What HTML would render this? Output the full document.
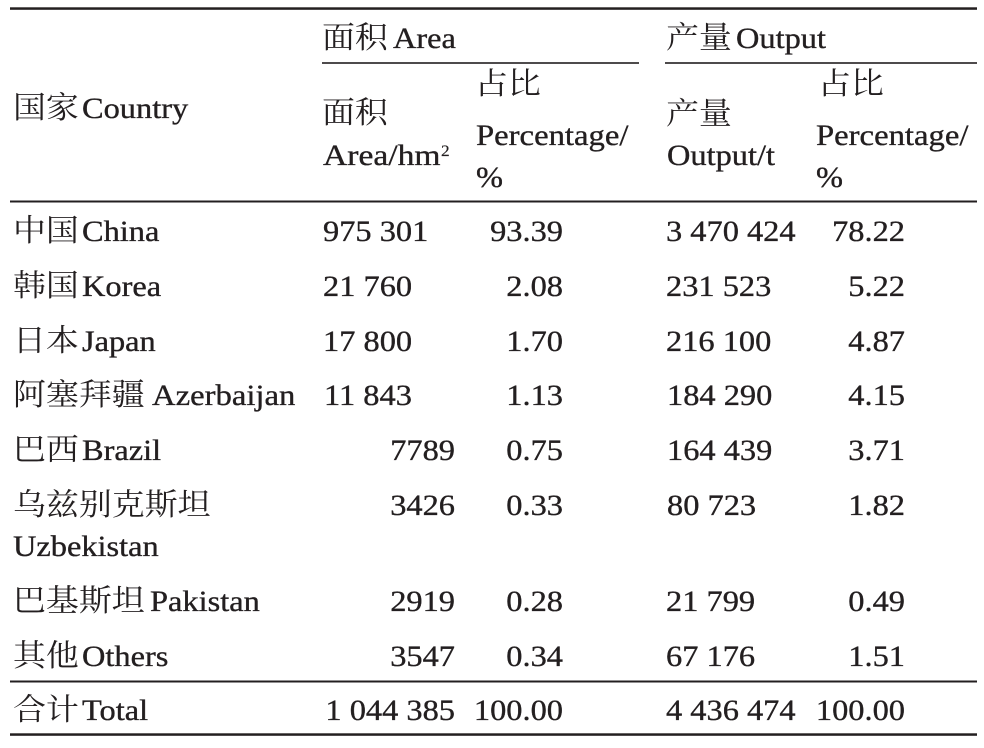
<!DOCTYPE html>
<html>
<head>
<meta charset="utf-8">
<style>
  html, body { margin: 0; padding: 0; background: #ffffff; }
  svg { display: block; }
  .t { font-family: "Liberation Serif", "Noto Serif CJK SC", serif; font-size: 30px; fill: #231f20; stroke: #231f20; stroke-width: 0.35px; }
  .c { font-family: "Noto Serif CJK SC", "Liberation Serif", serif; font-size: 30.5px; fill: #231f20; }
  .e { text-anchor: end; }
</style>
</head>
<body>
<svg width="984" height="748" viewBox="0 0 984 748" xmlns="http://www.w3.org/2000/svg">
  <!-- rules -->
  <rect x="10" y="7.3" width="967" height="2.5" fill="#231f20"/>
  <rect x="322" y="62.2" width="317" height="1.6" fill="#231f20"/>
  <rect x="665" y="62.2" width="312" height="1.6" fill="#231f20"/>
  <rect x="10" y="200.5" width="967" height="2" fill="#231f20"/>
  <rect x="10" y="680.5" width="967" height="2" fill="#231f20"/>
  <rect x="10" y="733.3" width="967" height="2.5" fill="#231f20"/>

  <!-- header -->
  <text class="c" transform="translate(13,118) scale(1.08,1)">国家</text>
  <text class="t" transform="translate(82,118) scale(1.08,1)">Country</text>

  <text class="c" transform="translate(322,48) scale(1.08,1)">面积</text>
  <text class="t" transform="translate(393,48) scale(1.08,1)">Area</text>
  <text class="c" transform="translate(666,48) scale(1.08,1)">产量</text>
  <text class="t" transform="translate(736,48) scale(1.08,1)">Output</text>

  <text class="c" transform="translate(322,123) scale(1.08,1)">面积</text>
  <text class="t" transform="translate(323,165) scale(1.12,1)">Area/hm</text>
  <text class="t" transform="translate(441,156) scale(1.08,1)" style="font-size:16px;stroke-width:0.2px">2</text>

  <text class="c" transform="translate(475,94) scale(1.08,1)">占比</text>
  <text class="t" transform="translate(476,145) scale(1.09,1)">Percentage/</text>
  <text class="t" transform="translate(476,187) scale(1.08,1)">%</text>

  <text class="c" transform="translate(666,124) scale(1.08,1)">产量</text>
  <text class="t" transform="translate(667,165) scale(1.08,1)">Output/t</text>

  <text class="c" transform="translate(818,94) scale(1.08,1)">占比</text>
  <text class="t" transform="translate(816,145) scale(1.09,1)">Percentage/</text>
  <text class="t" transform="translate(816,187) scale(1.08,1)">%</text>

  <!-- row: China -->
  <text class="c" transform="translate(13,241) scale(1.08,1)">中国</text>
  <text class="t" transform="translate(82,241) scale(1.08,1)">China</text>
  <text class="t" transform="translate(323,241) scale(1.08,1)">975 301</text>
  <text class="t e" transform="translate(563,241) scale(1.08,1)">93.39</text>
  <text class="t" transform="translate(666,241) scale(1.08,1)">3 470 424</text>
  <text class="t e" transform="translate(905,241) scale(1.08,1)">78.22</text>

  <!-- row: Korea -->
  <text class="c" transform="translate(13,296) scale(1.08,1)">韩国</text>
  <text class="t" transform="translate(82,296) scale(1.08,1)">Korea</text>
  <text class="t" transform="translate(323,296) scale(1.08,1)">21 760</text>
  <text class="t e" transform="translate(563,296) scale(1.08,1)">2.08</text>
  <text class="t" transform="translate(666,296) scale(1.08,1)">231 523</text>
  <text class="t e" transform="translate(905,296) scale(1.08,1)">5.22</text>

  <!-- row: Japan -->
  <text class="c" transform="translate(13,351) scale(1.08,1)">日本</text>
  <text class="t" transform="translate(82,351) scale(1.08,1)">Japan</text>
  <text class="t" transform="translate(323,351) scale(1.08,1)">17 800</text>
  <text class="t e" transform="translate(563,351) scale(1.08,1)">1.70</text>
  <text class="t" transform="translate(666,351) scale(1.08,1)">216 100</text>
  <text class="t e" transform="translate(905,351) scale(1.08,1)">4.87</text>

  <!-- row: Azerbaijan -->
  <text class="c" transform="translate(13,405) scale(1.08,1)">阿塞拜疆</text>
  <text class="t" transform="translate(152,405) scale(1.09,1)">Azerbaijan</text>
  <text class="t" transform="translate(324,405) scale(1.08,1)">11 843</text>
  <text class="t e" transform="translate(563,405) scale(1.08,1)">1.13</text>
  <text class="t" transform="translate(667,405) scale(1.08,1)">184 290</text>
  <text class="t e" transform="translate(905,405) scale(1.08,1)">4.15</text>

  <!-- row: Brazil -->
  <text class="c" transform="translate(13,460) scale(1.08,1)">巴西</text>
  <text class="t" transform="translate(82,460) scale(1.08,1)">Brazil</text>
  <text class="t e" transform="translate(455,460) scale(1.08,1)">7789</text>
  <text class="t e" transform="translate(563,460) scale(1.08,1)">0.75</text>
  <text class="t" transform="translate(667,460) scale(1.08,1)">164 439</text>
  <text class="t e" transform="translate(905,460) scale(1.08,1)">3.71</text>

  <!-- row: Uzbekistan -->
  <text class="c" transform="translate(13,515) scale(1.08,1)">乌兹别克斯坦</text>
  <text class="t" transform="translate(13,556) scale(1.08,1)">Uzbekistan</text>
  <text class="t e" transform="translate(455,515) scale(1.08,1)">3426</text>
  <text class="t e" transform="translate(563,515) scale(1.08,1)">0.33</text>
  <text class="t" transform="translate(667,515) scale(1.08,1)">80 723</text>
  <text class="t e" transform="translate(905,515) scale(1.08,1)">1.82</text>

  <!-- row: Pakistan -->
  <text class="c" transform="translate(13,611) scale(1.08,1)">巴基斯坦</text>
  <text class="t" transform="translate(150,611) scale(1.08,1)">Pakistan</text>
  <text class="t e" transform="translate(455,611) scale(1.08,1)">2919</text>
  <text class="t e" transform="translate(563,611) scale(1.08,1)">0.28</text>
  <text class="t" transform="translate(666,611) scale(1.08,1)">21 799</text>
  <text class="t e" transform="translate(905,611) scale(1.08,1)">0.49</text>

  <!-- row: Others -->
  <text class="c" transform="translate(13,666) scale(1.08,1)">其他</text>
  <text class="t" transform="translate(82,666) scale(1.08,1)">Others</text>
  <text class="t e" transform="translate(455,666) scale(1.08,1)">3547</text>
  <text class="t e" transform="translate(563,666) scale(1.08,1)">0.34</text>
  <text class="t" transform="translate(666,666) scale(1.08,1)">67 176</text>
  <text class="t e" transform="translate(905,666) scale(1.08,1)">1.51</text>

  <!-- row: Total -->
  <text class="c" transform="translate(13,720) scale(1.08,1)">合计</text>
  <text class="t" transform="translate(82,720) scale(1.08,1)">Total</text>
  <text class="t e" transform="translate(455,720) scale(1.08,1)">1 044 385</text>
  <text class="t e" transform="translate(563,720) scale(1.08,1)">100.00</text>
  <text class="t" transform="translate(666,720) scale(1.08,1)">4 436 474</text>
  <text class="t e" transform="translate(905,720) scale(1.08,1)">100.00</text>
</svg>
</body>
</html>
